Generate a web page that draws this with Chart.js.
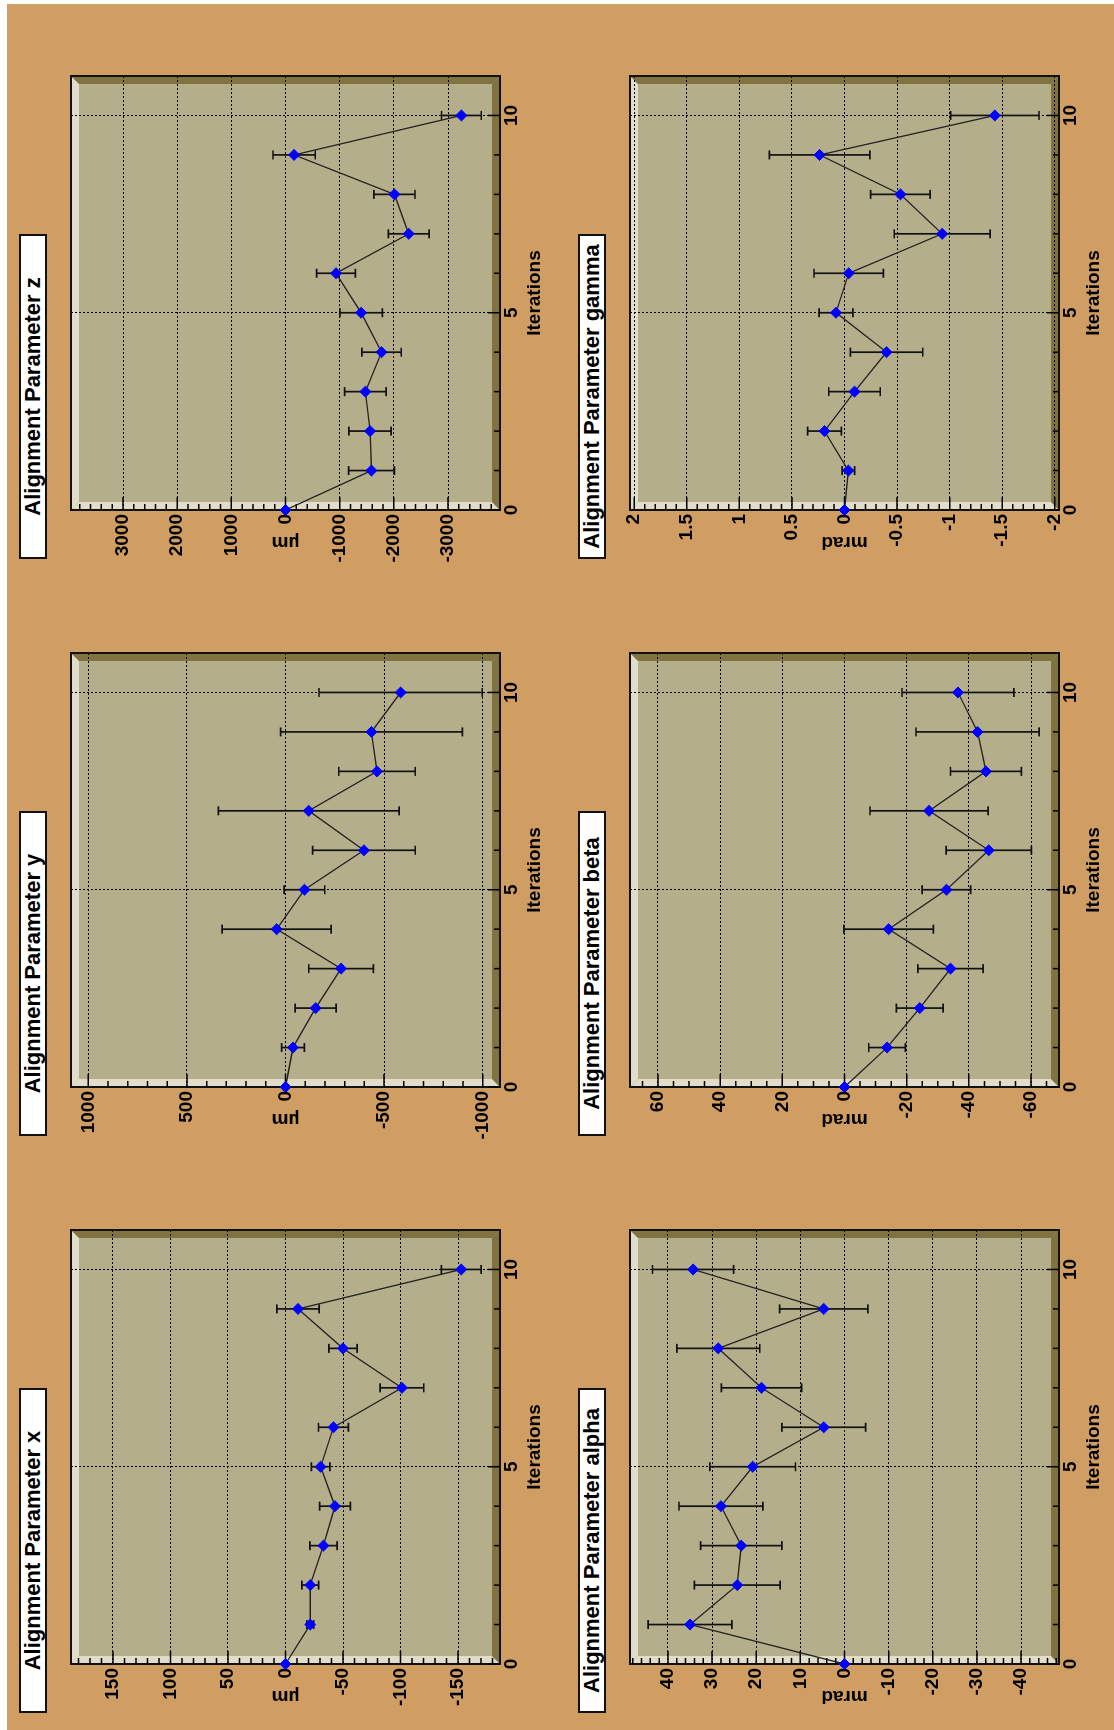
<!DOCTYPE html>
<html>
<head>
<meta charset="utf-8">
<title>Alignment Parameters vs Iterations</title>
<script src="https://cdn.jsdelivr.net/npm/chart.js@4.4.0/dist/chart.umd.min.js"></script>
<style>
  html, body { margin: 0; padding: 0; background: #fff; }
  body { width: 1114px; height: 1730px; overflow: hidden; position: relative; }
  /* the canvas was printed landscape and turned a quarter turn */
  #sheet { position: absolute; left: 0; top: 1730px; width: 1730px; height: 1114px;
           transform-origin: 0 0; transform: rotate(-90deg); }
  #paper { position: absolute; left: 0; top: 7px; width: 1726px; height: 1107px; background: #d09e62; }
  .pad { position: absolute; width: 530px; height: 501px; }
  .title { position: absolute; width: 325px; height: 28px; box-sizing: border-box; background: #fff;
           border: 2px solid #111; font: bold 22px "Liberation Sans", Arial, sans-serif;
           text-align: center; line-height: 24px; white-space: nowrap; color: #000; }
</style>
</head>
<body>
<div id="sheet">
  <div id="paper"></div>
</div>
<script>
// Iterations on the x axis
const iterations = [0, 1, 2, 3, 4, 5, 6, 7, 8, 9, 10];
const iterationTicks = [0, 5, 10];

// Translations (um)
const shiftX = [0, -21.5, -21.5, -33, -43, -30.5, -41.7, -101.2, -50, -10.9, -152.8];
const errX = [0, 3, 7.3, 11.8, 13.4, 8, 13, 19, 12.3, 18.4, 17.3];
const shiftY = [0, -38, -153, -282, 45, -96, -398, -118, -464, -436, -584];
const errY = [0, 58, 104, 164, 276, 103, 260, 458, 194, 461, 414];
const shiftZ = [0, -1587, -1561, -1475, -1773, -1396, -933, -2275, -2011, -159, -3247];
const errZ = [0, 423, 390, 384, 364, 394, 357, 377, 380, 390, 367];

// Rotations (mrad)
const alpha = [0, 35.0, 24.3, 23.4, 28.0, 20.8, 4.7, 18.8, 28.6, 4.7, 34.3];
const errAlpha = [0, 9.5, 9.7, 9.2, 9.5, 9.7, 9.5, 9.1, 9.4, 10, 9.2];
const beta = [0, -13.7, -24.2, -34.1, -14.2, -32.8, -46.4, -27.2, -45.5, -42.8, -36.5];
const errBeta = [0, 5.9, 7.5, 10.5, 14.4, 7.8, 13.7, 19, 11.4, 19.8, 18];
const gamma = [0, -0.037, 0.19, -0.095, -0.40, 0.081, -0.04, -0.929, -0.532, 0.237, -1.43];
const errGamma = [0, 0.06, 0.16, 0.245, 0.344, 0.16, 0.33, 0.456, 0.283, 0.478, 0.42];

// Y tick labels for each pad
const ticksX = [150, 100, 50, 0, -50, -100, -150];
const ticksY = [1000, 500, 0, -500, -1000];
const ticksZ = [3000, 2000, 1000, 0, -1000, -2000, -3000];
const ticksAlpha = [40, 30, 20, 10, 0, -10, -20, -30, -40];
const ticksBeta = [60, 40, 20, 0, -20, -40, -60];
const ticksGamma = [2, 1.5, 1, 0.5, 0, -0.5, -1, -1.5, -2];

const panels = [
  { title: 'Alignment Parameter x', unit: 'µm', values: shiftX, errors: errX, range: 186.5, ticks: ticksX, minor: 10, col: 0, row: 0 },
  { title: 'Alignment Parameter y', unit: 'µm', values: shiftY, errors: errY, range: 1088, ticks: ticksY, minor: 100, col: 1, row: 0 },
  { title: 'Alignment Parameter z', unit: 'µm', values: shiftZ, errors: errZ, range: 3960, ticks: ticksZ, minor: 200, col: 2, row: 0 },
  { title: 'Alignment Parameter alpha', unit: 'mrad', values: alpha, errors: errAlpha, range: 48.6, ticks: ticksAlpha, minor: 2, col: 0, row: 1 },
  { title: 'Alignment Parameter beta', unit: 'mrad', values: beta, errors: errBeta, range: 69, ticks: ticksBeta, minor: 5, col: 1, row: 1 },
  { title: 'Alignment Parameter gamma', unit: 'mrad', values: gamma, errors: errGamma, range: 2.04, ticks: ticksGamma, minor: 0.1, col: 2, row: 1 }
];

// Frame positions on the landscape sheet
const frameLefts = [66, 643, 1220];
const frameTops = [71, 630];

Chart.defaults.font.family = '"Liberation Sans", Arial, sans-serif';
Chart.defaults.color = '#000';

const axisFont = { size: 19, weight: 'bold' };

// Fill a polygon
function poly(ctx, color, pts) {
  ctx.fillStyle = color;
  ctx.beginPath();
  ctx.moveTo(pts[0][0], pts[0][1]);
  for (let i = 1; i < pts.length; i++) ctx.lineTo(pts[i][0], pts[i][1]);
  ctx.closePath();
  ctx.fill();
}

// ROOT style frame, inward ticks and error bars
function makeFramePlugin(panel) {
  return {
    id: 'rootFrame',
    beforeDraw(chart) {
      const { ctx, chartArea: a } = chart;
      const w = 8;
      ctx.save();
      ctx.fillStyle = '#b5ae8a';
      ctx.fillRect(a.left, a.top, a.width, a.height);
      poly(ctx, '#e1ddca', [[a.left, a.top], [a.right, a.top], [a.right - w, a.top + w], [a.left + w, a.top + w]]);
      poly(ctx, '#e1ddca', [[a.left, a.top], [a.left + w, a.top + w], [a.left + w, a.bottom - w], [a.left, a.bottom]]);
      poly(ctx, '#807341', [[a.right, a.top], [a.right, a.bottom], [a.right - w, a.bottom - w], [a.right - w, a.top + w]]);
      poly(ctx, '#807341', [[a.left, a.bottom], [a.right, a.bottom], [a.right - w, a.bottom - w], [a.left + w, a.bottom - w]]);
      ctx.restore();
    },
    beforeDatasetsDraw(chart) {
      const { ctx, chartArea: a, scales } = chart;
      const xs = scales.x;
      const ys = scales.y;
      ctx.save();

      // frame outline
      ctx.strokeStyle = '#111';
      ctx.lineWidth = 2;
      ctx.strokeRect(a.left, a.top, a.width, a.height);

      // ticks pointing into the frame
      ctx.lineWidth = 1.5;
      ctx.strokeStyle = '#000';
      ctx.beginPath();
      const step = panel.minor;
      for (let n = Math.ceil(ys.min / step - 1e-6); n * step <= ys.max + 1e-9; n++) {
        const v = n * step;
        const isMajor = panel.ticks.some(m => Math.abs(m - v) < step / 10);
        const py = ys.getPixelForValue(v);
        ctx.moveTo(a.left, py);
        ctx.lineTo(a.left + (isMajor ? 13 : 6), py);
      }
      iterations.forEach(it => {
        const px = xs.getPixelForValue(it);
        const isMajor = iterationTicks.includes(it);
        ctx.moveTo(px, a.bottom);
        ctx.lineTo(px, a.bottom - (isMajor ? 12 : 6));
      });
      ctx.stroke();

      // error bars
      ctx.strokeStyle = '#111';
      ctx.lineWidth = 1.7;
      ctx.beginPath();
      panel.values.forEach((val, i) => {
        const e = panel.errors[i];
        if (!e) return;
        const px = xs.getPixelForValue(iterations[i]);
        const hi = ys.getPixelForValue(val + e);
        const lo = ys.getPixelForValue(val - e);
        ctx.moveTo(px, hi); ctx.lineTo(px, lo);
        ctx.moveTo(px - 4.5, hi); ctx.lineTo(px + 4.5, hi);
        ctx.moveTo(px - 4.5, lo); ctx.lineTo(px + 4.5, lo);
      });
      ctx.stroke();
      ctx.restore();
    }
  };
}

const sheet = document.getElementById('sheet');

panels.forEach(panel => {
  const frameLeft = frameLefts[panel.col];
  const frameTop = frameTops[panel.row];

  const padDiv = document.createElement('div');
  padDiv.className = 'pad';
  padDiv.style.left = (frameLeft - 66) + 'px';
  padDiv.style.top = (frameTop - 20) + 'px';
  const canvas = document.createElement('canvas');
  padDiv.appendChild(canvas);
  sheet.appendChild(padDiv);

  const titleDiv = document.createElement('div');
  titleDiv.className = 'title';
  titleDiv.style.left = (frameLeft - 49) + 'px';
  titleDiv.style.top = (frameTop - 52.5) + 'px';
  titleDiv.textContent = panel.title;
  sheet.appendChild(titleDiv);

  new Chart(canvas.getContext('2d'), {
    type: 'scatter',
    data: {
      datasets: [{
        data: iterations.map((it, i) => ({ x: it, y: panel.values[i] })),
        showLine: true,
        borderColor: '#222',
        borderWidth: 1.3,
        pointStyle: 'rectRot',
        pointRadius: 5.5,
        pointBackgroundColor: '#0000ff',
        pointBorderColor: '#0000ff',
        pointBorderWidth: 1,
        clip: false
      }]
    },
    options: {
      responsive: true,
      maintainAspectRatio: false,
      animation: false,
      devicePixelRatio: 1,
      layout: { padding: { top: 20, right: 30, left: 0, bottom: 0 } },
      plugins: { legend: { display: false }, tooltip: { enabled: false } },
      scales: {
        x: {
          type: 'linear',
          position: 'bottom',
          min: 0,
          max: 11,
          afterBuildTicks: s => { s.ticks = iterationTicks.map(v => ({ value: v })); },
          afterFit: s => { s.height = 52; },
          grid: { color: '#000', lineWidth: 1, drawTicks: false },
          border: { display: false, dash: [2, 2] },
          ticks: { color: '#000', font: axisFont, padding: 0, maxRotation: 0, autoSkip: false, callback: v => String(v) },
          title: { display: true, text: 'Iterations', color: '#000', font: axisFont, padding: { top: 0, bottom: 5.6 } }
        },
        y: {
          type: 'linear',
          position: 'left',
          min: -panel.range,
          max: panel.range,
          afterBuildTicks: s => { s.ticks = panel.ticks.map(v => ({ value: v })); },
          afterFit: s => { s.width = 66; },
          grid: { color: '#000', lineWidth: 1, drawTicks: false },
          border: { display: false, dash: [2, 2] },
          ticks: { color: '#000', font: axisFont, padding: 4, autoSkip: false, callback: v => String(v) },
          title: { display: true, text: panel.unit, color: '#000', font: axisFont, padding: { top: 22.6, bottom: 0 } }
        }
      }
    },
    plugins: [makeFramePlugin(panel)]
  });
});
</script>
</body>
</html>
